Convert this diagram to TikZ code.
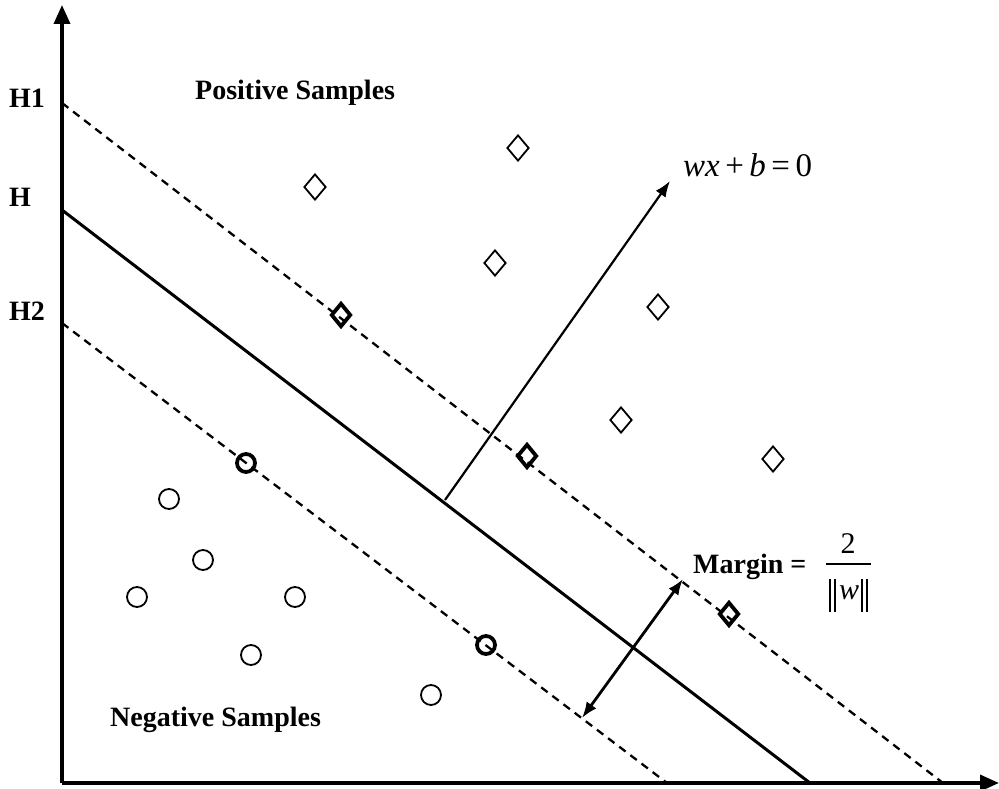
\documentclass[tikz,border=0pt]{standalone}
\usepackage{fontspec}
\setmainfont{Liberation Serif}
\usetikzlibrary{arrows.meta,shapes.geometric}
\begin{document}
\begin{tikzpicture}[x=1pt,y=-1pt,
  axis/.style={line width=3.6pt,-{Triangle[length=19pt,width=16pt]}},
  hyper/.style={line width=3pt},
  margline/.style={line width=2.3pt,dash pattern=on 8pt off 6pt},
  vec/.style={line width=2.2pt,-{Latex[length=16pt,width=12pt]}},
  dvec/.style={line width=2.8pt,{Latex[length=16pt,width=12pt]}-{Latex[length=16pt,width=12pt]}},
  lab/.style={font=\fontsize{28}{32}\selectfont\bfseries,inner sep=0pt,anchor=base west},
  mlab/.style={font=\fontsize{33}{36}\selectfont,inner sep=0pt,anchor=base west},
  flab/.style={font=\fontsize{30}{34}\selectfont,inner sep=0pt,anchor=base},
  posd/.style={diamond,draw,line width=1.8pt,minimum width=22pt,minimum height=26pt,inner sep=0pt},
  posb/.style={posd,line width=3.8pt,minimum width=20pt,minimum height=24pt},
  negc/.style={circle,draw,line width=1.8pt,minimum size=20pt,inner sep=0pt},
  negb/.style={negc,line width=3.8pt,minimum size=18pt}]
\useasboundingbox (0,0) rectangle (999,789);
% axes
\coordinate (O) at (62,783);
\coordinate (Ytop) at (62,5);
\coordinate (Xend) at (999,783);
\draw[axis] (O) -- (Ytop);
\draw[axis] (O) -- (Xend);
% hyperplanes
\coordinate (H1a) at (62,103);
\coordinate (H1b) at (943,783);
\coordinate (Ha) at (62,210);
\coordinate (Hb) at (810,783);
\coordinate (H2a) at (62,323);
\coordinate (H2b) at (667,783);
\draw[margline] (H1a) -- (H1b);
\draw[hyper] (Ha) -- (Hb);
\draw[margline] (H2a) -- (H2b);
% labels
\node[lab] (lH1) at (9,108) {H1};
\node[lab] (lH) at (9,207) {H};
\node[lab] (lH2) at (9,320) {H2};
\node[lab] (pos) at (195,100) {Positive Samples};
\node[lab] (neg) at (110,726) {Negative Samples};
% normal vector
\coordinate (ns) at (445,500);
\coordinate (ne) at (670,181);
\draw[vec] (ns) -- (ne);
\node[mlab] (eq) at (683,176) {\textit{wx}\,+\,\textit{b}\,=\,0};
% margin arrow
\coordinate (ma) at (582,718);
\coordinate (mb) at (683,579);
\draw[dvec] (ma) -- (mb);
\node[lab] (marg) at (693,573) {Margin =};
\node[flab] (two) at (848,553) {2};
\coordinate (fl) at (826,564);
\coordinate (fr) at (871,564);
\draw[line width=2pt] (fl) -- (fr);
\node[flab] (w) at (849,599) {\textit{w}};
\coordinate (b1t) at (830,579); \coordinate (b1b) at (830,612);
\coordinate (b2t) at (835,579); \coordinate (b2b) at (835,612);
\coordinate (b3t) at (862,579); \coordinate (b3b) at (862,612);
\coordinate (b4t) at (867,579); \coordinate (b4b) at (867,612);
\draw[line width=1.4pt] (b1t) -- (b1b) (b2t) -- (b2b) (b3t) -- (b3b) (b4t) -- (b4b);
% positive samples
\node[posd] (p1) at (315,187) {};
\node[posd] (p2) at (518,148) {};
\node[posd] (p3) at (495,263) {};
\node[posd] (p4) at (658,307) {};
\node[posd] (p5) at (621,420) {};
\node[posd] (p6) at (773,459) {};
\node[posb] (s1) at (341,315) {};
\node[posb] (s2) at (527,456) {};
\node[posb] (s3) at (729,614) {};
% negative samples
\node[negc] (n1) at (169,499) {};
\node[negc] (n2) at (203,560) {};
\node[negc] (n3) at (137,597) {};
\node[negc] (n4) at (295,597) {};
\node[negc] (n5) at (251,655) {};
\node[negc] (n6) at (431,695) {};
\node[negb] (t1) at (246,463) {};
\node[negb] (t2) at (486,645) {};
\end{tikzpicture}
\end{document}
